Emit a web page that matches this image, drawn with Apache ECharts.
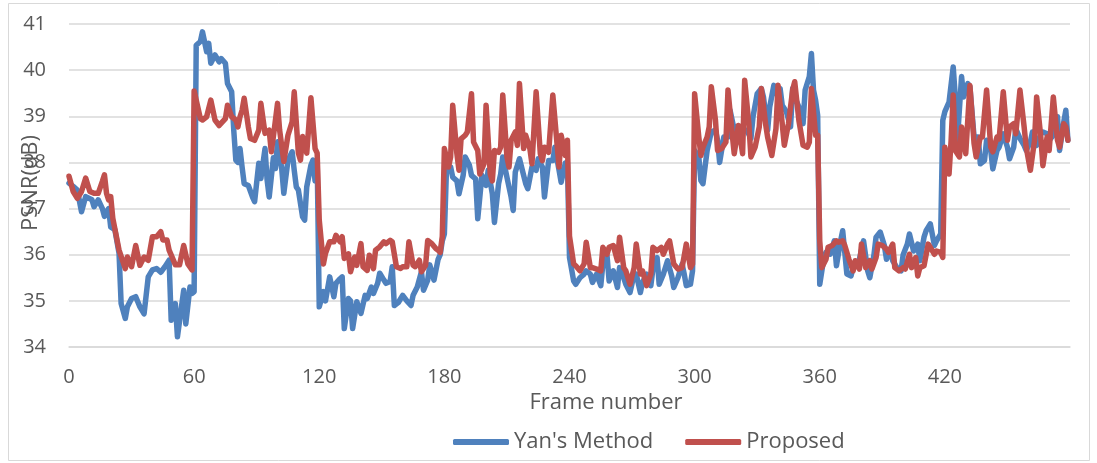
<!DOCTYPE html>
<html>
<head>
<meta charset="utf-8">
<script src="https://cdn.jsdelivr.net/npm/echarts@6/dist/echarts.min.js"></script>
<style>
  html, body { margin: 0; padding: 0; background: #fff; }
  #chart { width: 1097px; height: 463px; }
</style>
</head>
<body>
<div id="chart"></div>
<script>
// frame numbers and PSNR
var yanFrames = [0,2,4,6,8,11,12,14,16,17,19,20,22,24,25,27,28,30,32,34,36,38,40,42,44,46,48,49,51,52,55,56,58,59,60,
  61,63,64,66,67,68,70,72,73,75,76,78,79,80,81,82,83,84,86,88,89,91,92,94,95,96,98,99,100,102,103,105,107,108,109,110,112,113,114,116,117,118,119,
  120,122,123,125,127,128,130,131,132,134,135,136,138,140,142,143,145,146,148,149,151,152,154,155,156,158,160,162,164,165,167,169,170,172,173,175,177,178,179,
  180,181,183,184,186,187,189,190,192,193,195,196,198,200,201,203,204,206,207,208,210,212,213,214,216,217,219,220,222,224,225,227,228,230,232,233,235,236,238,239,
  240,242,243,245,247,248,250,251,253,255,256,258,259,261,263,264,266,267,269,271,272,274,275,277,279,280,282,283,285,287,289,290,292,294,295,296,298,299,
  300,302,303,304,306,308,310,311,312,314,316,317,319,320,322,324,325,327,328,330,332,333,335,336,338,339,341,342,344,346,347,348,350,352,353,355,356,357,358,359,
  360,362,363,365,367,368,370,371,373,375,376,378,379,381,383,384,386,387,389,391,392,394,395,397,399,400,402,403,405,407,408,410,411,413,415,416,418,
  419,420,422,424,425,426,428,429,431,432,434,436,437,439,440,442,443,445,446,448,450,451,453,454,456,458,459,461,462,464,466,467,469,470,472,474,475,477,478,479];
var yanPsnr = [37.55,37.48,37.4,36.93,37.26,37.19,37.04,37.19,37.0,36.83,37.0,36.6,36.54,36.03,34.94,34.62,34.87,35.05,35.09,34.87,34.72,35.52,35.67,35.7,35.62,35.74,35.88,34.58,34.94,34.22,35.23,34.5,35.3,35.16,35.2,
  40.54,40.62,40.83,40.4,40.58,40.15,40.33,40.18,40.25,40.15,39.71,39.53,38.7,38.05,38.0,38.3,37.9,37.54,37.5,37.25,37.15,37.98,37.65,38.3,37.62,37.25,38.1,37.87,38.45,37.87,37.33,38.05,38.23,37.83,37.47,37.4,36.82,36.75,37.47,37.94,38.05,37.6,38.05,
  34.87,35.2,35.0,35.52,35.09,35.38,35.48,35.52,34.4,35.05,35.0,34.4,34.98,34.73,35.12,35.05,35.3,35.16,35.38,35.6,35.45,35.38,35.42,35.74,34.9,34.97,35.12,35.0,34.9,35.12,35.3,35.63,35.23,35.45,35.78,35.45,35.9,36.0,36.3,
  36.45,37.83,37.9,37.68,37.6,37.32,37.72,38.12,37.94,37.72,37.64,36.78,37.72,37.5,37.83,37.32,36.7,37.54,37.75,38.12,37.68,37.25,36.96,37.79,38.08,37.9,37.54,37.43,37.9,37.83,38.08,37.9,37.25,38.04,38.04,38.33,37.83,37.57,37.99,38.0,
  35.94,35.43,35.36,35.5,35.58,35.65,35.58,35.4,35.58,35.33,35.8,35.98,35.43,35.65,35.29,35.72,35.5,35.36,35.18,35.58,35.58,35.18,35.4,35.58,35.33,35.69,35.94,35.36,35.58,35.87,35.54,35.29,35.5,35.8,35.58,35.33,35.36,35.65,
  38.26,38.12,37.61,37.54,38.26,38.66,38.7,38.48,38.0,38.55,38.55,39.13,38.7,38.77,38.59,38.7,38.7,38.52,38.99,39.49,39.6,39.42,38.7,39.2,39.67,39.49,39.6,39.24,39.1,38.77,39.6,39.42,39.2,38.84,39.57,39.86,40.36,39.57,39.35,39.02,
  35.36,35.94,36.05,36.01,36.3,35.76,36.3,36.52,35.58,35.54,35.72,35.8,35.9,36.3,35.65,35.5,36.0,36.38,36.49,36.2,35.9,36.1,35.87,35.72,35.65,36.0,36.23,36.45,36.08,36.23,35.87,36.38,36.52,36.67,36.2,36.3,36.45,
  38.91,39.1,39.31,40.07,39.42,38.48,39.86,39.42,39.71,39.64,38.55,38.55,37.97,38.04,38.48,38.26,37.86,38.26,38.33,38.62,38.33,38.08,38.33,38.73,38.52,38.37,38.26,38.44,38.66,38.37,38.62,38.66,38.62,38.48,38.59,38.99,38.26,38.87,39.13,38.48];

var propFrames = [0,2,4,6,8,10,12,14,16,17,18,19,20,21,24,27,28,30,32,34,36,38,40,42,44,45,47,48,51,53,55,57,59,
  60,61,63,64,66,68,70,72,73,75,76,78,80,81,82,83,84,86,87,89,91,92,94,96,97,98,100,101,103,105,107,108,110,111,112,114,116,118,119,
  120,122,123,125,127,128,130,131,132,134,135,137,138,140,141,143,144,146,147,149,151,152,154,155,157,159,160,162,163,165,166,168,169,171,172,174,176,177,178,179,
  180,182,183,184,186,187,188,190,191,193,194,196,197,199,200,202,203,204,206,207,208,210,211,212,214,215,216,218,219,221,222,224,226,227,228,230,232,234,235,236,238,239,
  240,242,243,245,247,248,250,251,253,255,256,258,259,261,263,264,266,267,269,271,272,274,275,277,279,280,282,284,285,287,288,290,292,294,296,298,299,
  300,302,303,304,306,307,308,310,311,313,315,316,318,319,321,323,324,326,327,329,331,332,334,335,337,339,340,342,343,345,347,348,350,352,354,355,356,358,359,
  360,361,363,364,366,368,369,371,372,374,376,377,379,380,382,384,385,387,388,390,392,393,395,396,398,400,401,403,404,406,407,408,410,412,413,415,416,418,419,
  420,422,423,424,425,427,428,430,432,434,435,437,438,440,442,443,445,446,448,450,451,453,454,456,458,459,461,463,464,466,467,469,470,472,474,475,477,478,479];
var propPsnr = [37.7,37.37,37.22,37.37,37.66,37.37,37.33,37.33,37.59,37.73,37.33,37.19,37.26,36.79,36.1,35.7,35.95,35.74,36.2,35.77,35.95,35.88,36.39,36.39,36.5,36.32,36.32,36.1,35.78,35.78,36.2,35.8,35.67,
  39.55,39.35,38.95,38.92,38.99,39.35,38.92,38.8,38.85,38.95,39.24,38.99,38.92,38.77,38.99,39.13,39.39,38.77,38.52,38.48,38.7,39.28,38.63,38.7,38.23,38.56,39.28,38.7,38.02,38.59,38.88,39.53,38.2,38.05,38.56,38.2,39.4,38.3,38.2,
  36.75,35.8,36.03,36.28,36.28,36.42,36.28,36.39,35.92,36.02,35.63,35.95,35.77,36.24,35.74,35.66,35.99,35.7,36.1,36.17,36.28,36.24,36.31,36.28,35.74,35.7,35.74,35.74,36.28,35.77,35.74,35.88,35.63,35.77,36.31,36.24,36.13,36.1,36.05,36.4,
  38.3,37.9,38.12,39.24,38.19,37.83,38.51,38.59,38.66,39.49,38.44,38.26,37.75,37.97,39.24,37.75,37.6,38.26,38.22,38.33,39.46,38.12,37.9,38.48,38.66,38.37,39.71,38.3,38.59,38.3,37.97,39.53,38.19,38.04,38.33,38.22,39.46,38.41,37.9,38.59,38.15,38.48,
  36.4,35.8,35.76,35.65,35.8,36.27,35.72,35.72,35.69,35.65,36.16,36.01,36.16,36.2,35.87,36.38,35.72,35.65,35.36,35.72,36.23,35.58,35.65,35.33,35.58,36.16,36.09,36.16,36.01,36.23,36.3,35.8,35.69,35.72,36.23,35.72,35.8,
  39.49,38.55,38.15,38.33,38.55,38.77,39.64,38.91,38.26,38.3,38.44,39.57,38.62,38.19,38.8,38.19,39.78,38.84,38.12,38.33,38.77,39.6,38.84,38.55,38.15,38.73,39.67,38.84,38.37,38.84,39.57,39.75,38.91,38.37,38.33,38.44,39.6,38.59,38.59,
  36.3,35.72,35.9,36.16,36.2,36.3,36.27,36.3,36.2,35.9,35.65,35.87,35.69,36.23,35.72,35.87,35.69,35.94,36.23,36.2,36.12,36.05,36.23,35.72,35.65,35.72,35.69,36.01,35.72,35.94,35.54,35.72,35.76,36.23,36.16,36.01,36.08,36.05,35.94,
  38.33,37.75,38.48,39.46,38.26,38.12,38.77,38.19,39.67,38.41,38.12,38.55,38.55,39.57,38.33,38.23,38.55,38.51,39.53,38.48,38.77,38.84,38.62,39.57,38.77,38.33,37.83,38.48,39.42,38.55,37.93,38.55,38.26,39.42,38.48,38.33,38.84,38.77,38.48];

var seriesNames = ["Yan's Method", 'Proposed'];
var seriesColors = ['#4f81bd', '#c0504d'];

function pairs(xs, ys) {
    var out = [];
    for (var i = 0; i < xs.length; i++) {
        out.push([xs[i], ys[i]]);
    }
    return out;
}

var font = '"Open Sans", "Noto Sans", sans-serif';
var grey = '#595959';

var myChart = echarts.init(document.getElementById('chart'));
var option = {
    animation: false,
    backgroundColor: '#fff',
    grid: { left: 69, right: 27, top: 24, bottom: 116 },
    legend: {
        data: seriesNames,
        left: 448,
        top: 426,
        icon: 'roundRect',
        itemWidth: 56,
        itemHeight: 6,
        itemGap: 32,
        textStyle: { fontFamily: font, fontSize: 22, color: grey }
    },
    xAxis: {
        type: 'value',
        min: 0,
        max: 480,
        interval: 60,
        axisLine: { lineStyle: { color: '#d9d9d9', width: 1.5 } },
        axisTick: { show: false },
        splitLine: { show: false },
        axisLabel: {
            margin: 20,
            fontFamily: font,
            fontSize: 20,
            color: grey,
            formatter: function (v) { return v >= 480 ? '' : String(v); }
        }
    },
    yAxis: {
        type: 'value',
        min: 34,
        max: 41,
        interval: 1,
        axisLine: { show: false },
        axisTick: { show: false },
        splitLine: { lineStyle: { color: '#d9d9d9', width: 1.5 } },
        axisLabel: { margin: 23, fontFamily: font, fontSize: 20, color: grey }
    },
    graphic: [
        {
            type: 'rect',
            shape: { x: 8.5, y: 3.5, width: 1081, height: 457 },
            style: { fill: null, stroke: '#d9d9d9', lineWidth: 1 },
            silent: true
        },
        {
            type: 'text',
            x: 606, y: 403,
            style: { text: 'Frame number', fontFamily: font, fontSize: 22, fill: grey, align: 'center', verticalAlign: 'middle' }
        },
        {
            type: 'text',
            x: 31, y: 183,
            rotation: Math.PI / 2,
            style: { text: 'PSNR(dB)', fontFamily: font, fontSize: 22, fill: grey, align: 'center', verticalAlign: 'middle' }
        }
    ],
    series: [
        {
            name: seriesNames[0],
            type: 'line',
            symbol: 'none',
            data: pairs(yanFrames, yanPsnr),
            itemStyle: { color: seriesColors[0] },
            lineStyle: { color: seriesColors[0], width: 5.5, join: 'round', cap: 'round' }
        },
        {
            name: seriesNames[1],
            type: 'line',
            symbol: 'none',
            data: pairs(propFrames, propPsnr),
            itemStyle: { color: seriesColors[1] },
            lineStyle: { color: seriesColors[1], width: 5.5, join: 'round', cap: 'round' }
        }
    ]
};
myChart.setOption(option);
</script>
</body>
</html>
